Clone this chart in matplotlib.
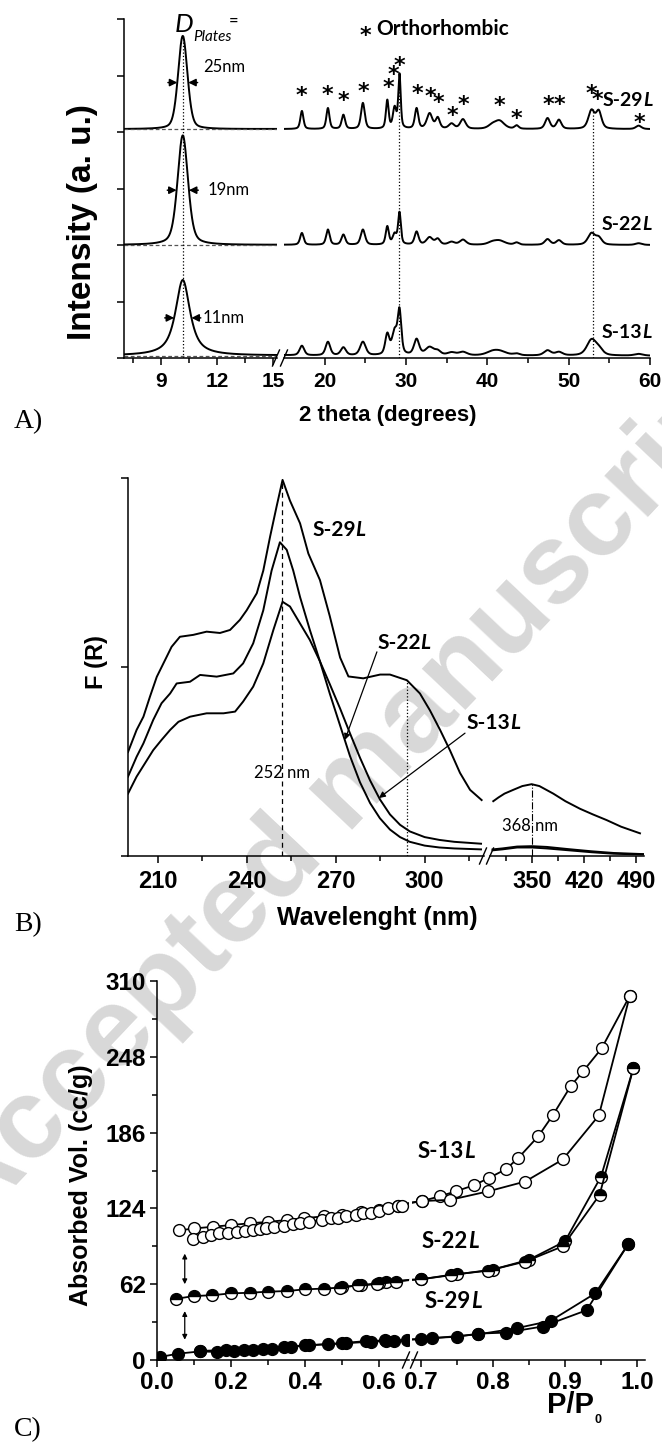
import numpy as np
import matplotlib
matplotlib.use('Agg')
import matplotlib.pyplot as plt
from matplotlib.lines import Line2D

W, H = 662, 1444
SANS = ['Liberation Sans', 'DejaVu Sans']
HUM = ['Lato', 'DejaVu Sans']
plt.rcParams['font.family'] = SANS

# ---------------- A) XRD ----------------
xrd_samples = ['S-29L', 'S-22L', 'S-13L']
xrd_offset = [4.05, 2.0, 0.04]
plate_pos = 10.15
plate_height = [1.65, 1.94, 1.34]
plate_fwhm = [0.59, 0.66, 0.93]
plate_eta = [0.3, 0.4, 0.85]
plate_size = ['25nm', '19nm', '11nm']

ortho_pos = [17.2, 20.4, 22.3, 24.7, 27.7, 28.6, 29.2, 31.3, 32.9, 33.9, 35.6,
             37.0, 40.6, 41.5, 43.6, 47.4, 48.8, 52.8, 53.7, 58.6]
ortho_h29 = [0.32, 0.37, 0.25, 0.46, 0.50, 0.36, 0.95, 0.36, 0.27, 0.19, 0.09,
             0.17, 0.06, 0.14, 0.06, 0.19, 0.16, 0.32, 0.30, 0.06]
ortho_h22 = [0.21, 0.27, 0.18, 0.27, 0.32, 0.18, 0.56, 0.23, 0.13, 0.10, 0.05,
             0.09, 0.04, 0.07, 0.04, 0.10, 0.08, 0.20, 0.12, 0.03]
ortho_h13 = [0.17, 0.24, 0.14, 0.24, 0.36, 0.40, 0.75, 0.28, 0.14, 0.07, 0.05,
             0.06, 0.05, 0.07, 0.03, 0.09, 0.06, 0.27, 0.10, 0.03]
ortho_w = [0.45, 0.45, 0.5, 0.55, 0.4, 0.5, 0.35, 0.5, 0.8, 0.6, 0.8,
           0.8, 1.2, 1.4, 0.6, 0.7, 0.7, 0.9, 0.8, 0.8]
ortho_h = [ortho_h29, ortho_h22, ortho_h13]
width_scale = [1.0, 1.15, 1.5]

star_x = [17.18, 20.37, 22.33, 24.79, 27.85, 28.47, 29.2, 31.41, 33.0, 33.99,
          35.7, 37.06, 41.47, 43.56, 47.48, 48.83, 52.76, 53.5, 58.65]
star_y = [4.75, 4.77, 4.66, 4.82, 4.89, 5.12, 5.28, 4.79, 4.73, 4.63,
          4.4, 4.59, 4.57, 4.34, 4.59, 4.59, 4.79, 4.68, 4.27]

# ---------------- B) DR-UV-vis ----------------
b29_x = [200, 202.9, 205.2, 207.4, 209.7, 212.5, 214.7, 217.5, 222, 226.5, 231,
         234.4, 237.7, 240, 243.4, 245.6, 247.9, 250.1, 252.1, 254.6, 258, 260.8,
         264.7, 268, 271.5, 274.3, 279.3, 285, 288.3, 294, 298.4, 301.8, 305.2,
         308.5, 311.9, 315.3, 319.2]
b29_y = [0.55, 0.667, 0.737, 0.843, 0.948, 1.037, 1.107, 1.16, 1.17, 1.187, 1.18,
         1.196, 1.249, 1.30, 1.39, 1.51, 1.69, 1.85, 1.99, 1.88, 1.76, 1.60,
         1.46, 1.27, 1.05, 0.95, 0.94, 0.96, 0.96, 0.93, 0.86, 0.77, 0.667,
         0.56, 0.44, 0.35, 0.296]
b22_x = [200, 202.9, 205.2, 208.5, 211.3, 214.2, 216.4, 220.9, 224.3, 229.9, 235.5,
         238.8, 242.2, 245.6, 248.4, 251.2, 253.5, 255.7, 258, 261.3, 264.7, 268,
         271.5, 274.8, 278.2, 281.6, 284.9, 288.3, 291.7, 295, 300, 305, 310, 319]
b22_y = [0.42, 0.525, 0.596, 0.72, 0.808, 0.86, 0.913, 0.922, 0.958, 0.949, 0.966,
         1.019, 1.125, 1.30, 1.51, 1.66, 1.62, 1.51, 1.37, 1.196, 1.03, 0.86,
         0.69, 0.53, 0.39, 0.28, 0.20, 0.14, 0.10, 0.075, 0.055, 0.045, 0.04, 0.035]
b13_x = [200, 202.9, 205.7, 208.5, 211.3, 214.2, 217, 220.9, 226.5, 232.2, 236.1,
         238.8, 242.2, 245.6, 249, 252.1, 254.6, 258, 261.3, 264.7, 268, 271.5,
         274.8, 278.2, 281.6, 284.9, 288.3, 291.7, 295, 300, 305, 310, 319]
b13_y = [0.33, 0.42, 0.49, 0.56, 0.614, 0.667, 0.71, 0.737, 0.755, 0.755, 0.764,
         0.817, 0.896, 1.019, 1.196, 1.345, 1.32, 1.23, 1.143, 1.03, 0.91, 0.78,
         0.65, 0.52, 0.40, 0.30, 0.22, 0.165, 0.13, 0.10, 0.085, 0.075, 0.065]
# right (broken) segment of the wavelength axis
b29r_x = [297.9, 305, 313, 324.8, 337, 349.6, 360, 378.7, 395, 414.6, 432, 450.5, 470, 495.4]
b29r_y = [0.29, 0.31, 0.33, 0.35, 0.37, 0.38, 0.37, 0.33, 0.29, 0.25, 0.22, 0.19, 0.155, 0.12]
b22r_x = [297, 310, 330, 350, 370, 400, 430, 460, 500]
b22r_y = [0.03, 0.035, 0.045, 0.045, 0.04, 0.03, 0.02, 0.012, 0.008]
b13r_x = [297, 310, 330, 350, 370, 400, 430, 460, 500]
b13r_y = [0.035, 0.04, 0.05, 0.052, 0.048, 0.036, 0.025, 0.016, 0.01]

# ---------------- C) N2 isotherms ----------------
c13_ads_p = [0.098, 0.125, 0.146, 0.167, 0.192, 0.215, 0.237, 0.26, 0.278, 0.294, 0.316,
             0.343, 0.367, 0.387, 0.411, 0.446, 0.469, 0.489, 0.512, 0.537, 0.557, 0.578,
             0.60, 0.625, 0.65, 0.663, 0.702, 0.741, 0.794, 0.845, 0.897, 0.947, 0.99]
c13_ads_v = [99.3, 100.7, 102, 103.5, 104, 105, 105.4, 106, 107, 107.6, 108.5,
             110, 111, 112, 113, 114.5, 116, 116.5, 118, 119, 120, 120.5,
             122, 124, 125.6, 126, 130, 131, 138, 146, 164, 200, 298]
c13_des_p = [0.99, 0.951, 0.925, 0.908, 0.883, 0.863, 0.835, 0.818, 0.795, 0.774, 0.749,
             0.727, 0.702, 0.65, 0.6, 0.55, 0.5, 0.45, 0.398, 0.35, 0.301, 0.25, 0.2,
             0.152, 0.1, 0.06]
c13_des_v = [298, 255, 236, 224, 200, 183, 165, 156, 149, 143, 138,
             134, 130, 126, 123, 121, 119, 117.5, 116, 114.5, 113, 111.8, 110.4,
             109, 107.6, 106]
c22_ads_p = [0.05, 0.1, 0.149, 0.2, 0.25, 0.3, 0.35, 0.4, 0.45, 0.494, 0.542, 0.595,
             0.646, 0.70, 0.742, 0.793, 0.845, 0.897, 0.948, 0.995]
c22_ads_v = [50, 52.3, 53, 54.5, 55, 55.9, 56.4, 57.8, 58.4, 59.2, 61, 62,
             64, 66, 69.7, 73, 80.5, 93, 135, 239]
c22_des_p = [0.995, 0.95, 0.9, 0.85, 0.8, 0.75, 0.70, 0.62, 0.6, 0.55, 0.5]
c22_des_v = [239, 150, 97, 82, 74, 70, 66, 64, 63, 61, 59.8]
c29_ads_p = [0.009, 0.057, 0.116, 0.162, 0.209, 0.26, 0.31, 0.363, 0.41, 0.461, 0.51,
             0.565, 0.615, 0.641, 0.675, 0.716, 0.75, 0.78, 0.818, 0.869, 0.93, 0.988]
c29_ads_v = [2.5, 5.2, 7, 6.6, 7, 8, 9, 10.7, 12, 13, 14,
             15.5, 16, 15.4, 16.3, 18, 19, 21.6, 22.4, 27.4, 40.7, 95]
c29_des_p = [0.988, 0.942, 0.88, 0.833, 0.78, 0.7, 0.618, 0.577, 0.5, 0.4, 0.343,
             0.287, 0.234, 0.186, 0.116]
c29_des_v = [95, 54.5, 32, 26, 21, 17, 15.4, 15, 13.5, 12, 10.7, 9, 8, 8, 7.5]


def add_ax(x0, x1, y0, y1):
    ax = fig.add_axes([x0 / W, 1 - y1 / H, (x1 - x0) / W, (y1 - y0) / H])
    ax.patch.set_alpha(0)
    for s in ['top', 'right']:
        ax.spines[s].set_visible(False)
    for s in ['left', 'bottom']:
        ax.spines[s].set_linewidth(1.1)
    ax.tick_params(which='both', direction='out', width=1.1)
    ax.tick_params(which='major', length=5)
    ax.tick_params(which='minor', length=3.5)
    return ax


def right_part(ax):
    ax.spines['left'].set_visible(False)
    ax.tick_params(axis='y', which='both', left=False, labelleft=False)


def ftxt(xp, yp, s, **kw):
    return fig.text(xp / W, 1 - yp / H, s, **kw)


def slash(xp, yp, dx=3.5, dy=8):
    fig.add_artist(Line2D([(xp - dx) / W, (xp + dx) / W],
                          [1 - (yp + dy) / H, 1 - (yp - dy) / H],
                          color='black', lw=1.0, transform=fig.transFigure))


def sample_label(ax, xp, yp, name, size):
    t = ax.text(xp / W, 1 - yp / H, name[:-1], transform=fig.transFigure,
                family=HUM, fontweight='bold', fontsize=size, ha='left', va='center')
    ax.annotate(name[-1], xy=(1, 0), xycoords=t, family=HUM, fontweight='bold',
                fontstyle='italic', fontsize=size, ha='left', va='bottom')


def pvoigt(x, pos, h, w, eta):
    g = np.exp(-4 * np.log(2) * ((x - pos) / w) ** 2)
    lo = 1.0 / (1 + 4 * ((x - pos) / w) ** 2)
    return h * (eta * lo + (1 - eta) * g)


fig = plt.figure(figsize=(W / 100, H / 100), dpi=100)

# watermark
ftxt(350, 790, 'Accepted manuscript', fontsize=82, fontweight='bold', color='#d8d8d8',
     rotation=46.6, rotation_mode='anchor', ha='center', va='center', zorder=-5)

# ================= panel A =================
axA1 = add_ax(124, 277, 19, 358)
axA2 = add_ax(284, 650, 19, 358)
right_part(axA2)
tt = np.linspace(7, 60, 6000)
for i, name in enumerate(xrd_samples):
    y = xrd_offset[i] + pvoigt(tt, plate_pos, plate_height[i], plate_fwhm[i], plate_eta[i])
    for p, hh, w in zip(ortho_pos, ortho_h[i], ortho_w):
        y = y + pvoigt(tt, p, hh, w * width_scale[i], 0.5)
    for ax in (axA1, axA2):
        ax.plot(tt, y, color='black', lw=1.4)
    axA1.plot([7, 15.2], [xrd_offset[i]] * 2, ls=(0, (3, 2)), color='#555555', lw=0.9)
    # FWHM markers
    yl = xrd_offset[i] + plate_height[i] / 2
    xl = plate_pos - plate_fwhm[i] / 2
    xr = plate_pos + plate_fwhm[i] / 2
    for tip, tail in ((xl, xl - 0.5), (xr, xr + 0.5)):
        axA1.annotate('', xy=(tip, yl), xytext=(tail, yl),
                      arrowprops=dict(arrowstyle='-|>', color='black', lw=1.1,
                                      mutation_scale=11, shrinkA=0, shrinkB=0))
axA1.plot([plate_pos, plate_pos], [0, xrd_offset[0] + plate_height[0]], ls=':', color='black', lw=0.9)
axA2.plot([29.2, 29.2], [0, 5.0], ls=':', color='black', lw=0.9)
axA2.plot([53.0, 53.0], [0, 4.4], ls=':', color='black', lw=0.9)
for sx, sy in zip(star_x, star_y):
    axA2.text(sx, sy - 0.22, '*', family=['DejaVu Sans'], fontweight='bold', fontsize=16,
              ha='center', va='baseline')

axA1.set_xlim(7, 15.2)
axA2.set_xlim(15, 60)
for ax in (axA1, axA2):
    ax.set_ylim(0, 6)
axA1.set_yticks(range(7))
axA1.set_yticklabels([])
axA1.set_xticks([9, 12, 15])
axA1.set_xticks([7.5, 10.5, 13.5], minor=True)
axA2.set_xticks([20, 30, 40, 50, 60])
axA2.set_xticks([25, 35, 45, 55], minor=True)
for ax in (axA1, axA2):
    for lab in ax.get_xticklabels():
        lab.set_fontsize(15)
        lab.set_fontweight('bold')
    ax.tick_params(axis='x', pad=5)

for i, s in enumerate(plate_size):
    axA1.text([11.22, 11.5, 11.2][i], xrd_offset[i] + plate_height[i] / 2 + [0.28, 0, 0][i], s,
              family=HUM, fontsize=12, ha='left', va='center')
# D_Plates =
axA1.text(9.73, 5.9, 'D', family=HUM, fontstyle='italic', fontsize=19, ha='left', va='center')
axA1.text(10.69, 5.69, 'Plates', family=HUM, fontstyle='italic', fontsize=11, ha='left', va='center')
axA1.text(12.61, 5.96, '=', family=HUM, fontsize=12, ha='left', va='center')
axA2.text(24.3, 5.82 - 0.22, '*', family=['DejaVu Sans'], fontweight='bold', fontsize=16,
          ha='left', va='baseline')
axA2.text(26.3, 5.82, 'Orthorhombic', family=HUM, fontweight='bold', fontsize=15,
          ha='left', va='center')
sample_label(axA2, 603, 101, 'S-29L', 14)
sample_label(axA2, 602, 224, 'S-22L', 14)
sample_label(axA2, 602, 332, 'S-13L', 14)
slash(276, 358)
slash(284, 358)
ftxt(388, 415, '2 theta (degrees)', fontsize=16, fontweight='bold', ha='center', va='center')
ftxt(83, 222, 'Intensity (a. u.)', fontsize=24, fontweight='bold', ha='center', va='center',
     rotation=90)
ftxt(28, 422, 'A)', family=['Liberation Serif'], fontsize=20, ha='center', va='center')

# ================= panel B =================
axB1 = add_ax(128, 484, 478, 856)
axB2 = add_ax(490, 644, 478, 856)
right_part(axB2)
for xs, ys in ((b29_x, b29_y), (b22_x, b22_y), (b13_x, b13_y)):
    axB1.plot(xs, ys, color='black', lw=1.4)
for xs, ys in ((b29r_x, b29r_y), (b22r_x, b22r_y), (b13r_x, b13r_y)):
    axB2.plot(xs, ys, color='black', lw=1.4)
axB1.plot([252, 252], [0, 1.99], ls=(0, (4, 3)), color='black', lw=0.9)
axB1.plot([294, 294], [0, 0.93], ls=':', color='black', lw=0.9)
axB2.plot([350, 350], [0, 0.38], ls='-.', color='black', lw=0.8)
axB1.set_xlim(200, 320)
axB2.set_xlim(293.5, 500.8)
for ax in (axB1, axB2):
    ax.set_ylim(0, 2)
axB1.set_yticks([0, 1, 2])
axB1.set_yticklabels([])
axB1.set_xticks([210, 240, 270, 300])
axB1.set_xticks([225, 255, 285, 315], minor=True)
axB2.set_xticks([350, 420, 490])
axB2.set_xticks([315, 385, 455], minor=True)
for ax in (axB1, axB2):
    for lab in ax.get_xticklabels():
        lab.set_fontsize(17)
        lab.set_fontweight('bold')
    ax.tick_params(axis='x', pad=5)
axB1.text(251.9, 0.44, '252 nm', family=HUM, fontsize=12, ha='center', va='center')
axB2.text(347.3, 0.16, '368 nm', family=HUM, fontsize=12, ha='center', va='center')
sample_label(axB1, 312, 530, 'S-29L', 15)
sample_label(axB1, 377, 643, 'S-22L', 15)
sample_label(axB1, 466, 723, 'S-13L', 15)
for tip, tail in (((273.1, 0.614), (283.9, 1.08)), ((284.6, 0.307), (313.6, 0.65))):
    axB1.annotate('', xy=tip, xytext=tail, annotation_clip=False,
                  arrowprops=dict(arrowstyle='-|>', color='black', lw=0.9,
                                  mutation_scale=9, shrinkA=0, shrinkB=0))
slash(483, 856)
slash(490, 856)
ftxt(377, 918, 'Wavelenght (nm)', fontsize=18, fontweight='bold', ha='center', va='center')
ftxt(97, 662, 'F (R)', fontsize=17, fontweight='bold', ha='center', va='center', rotation=90)
ftxt(28, 925, 'B)', family=['Liberation Serif'], fontsize=20, ha='center', va='center')

# ================= panel C =================
axC1 = add_ax(157, 409, 981, 1360)
axC2 = add_ax(412, 645, 981, 1360)
right_part(axC2)
mk = dict(marker='o', ms=8.5, mew=1.0, mec='black', color='black', lw=1.3)
for ax in (axC1, axC2):
    ax.plot(c29_des_p, c29_des_v, mfc='black', **mk)
    ax.plot(c29_ads_p, c29_ads_v, mfc='black', **mk)
    ax.plot(c22_des_p, c22_des_v, fillstyle='top', mfc='black', markerfacecoloralt='white', **mk)
    ax.plot(c22_ads_p, c22_ads_v, fillstyle='top', mfc='black', markerfacecoloralt='white', **mk)
    ax.plot(c13_des_p, c13_des_v, mfc='white', **mk)
    ax.plot(c13_ads_p, c13_ads_v, mfc='white', **mk)
    ax.set_ylim(0, 310)
axC1.set_xlim(0, 0.681)
axC2.set_xlim(0.688, 1.011)
axC1.set_yticks(np.arange(0, 311, 62))
axC1.set_yticks(np.arange(31, 311, 62), minor=True)
axC1.set_xticks([0.0, 0.2, 0.4, 0.6])
axC1.set_xticks([0.1, 0.3, 0.5], minor=True)
axC1.set_xticklabels(['0.0', '0.2', '0.4', '0.6'])
axC2.set_xticks([0.7, 0.8, 0.9, 1.0])
axC2.set_xticklabels(['0.7', '0.8', '0.9', '1.0'])
axC2.set_xticks([0.75, 0.85, 0.95], minor=True)
for ax in (axC1, axC2):
    for lab in ax.get_xticklabels() + ax.get_yticklabels():
        lab.set_fontsize(17.5)
        lab.set_fontweight('bold')
    ax.tick_params(axis='both', pad=3)
for v0, v1 in ((87, 62), (40, 16.6)):
    axC1.annotate('', xy=(0.075, v1), xytext=(0.075, v0),
                  arrowprops=dict(arrowstyle='<|-|>', color='black', lw=0.9,
                                  mutation_scale=7, shrinkA=0, shrinkB=0))
sample_label(axC2, 418, 1151, 'S-13L', 16)
sample_label(axC2, 422, 1241, 'S-22L', 16)
sample_label(axC2, 425, 1301, 'S-29L', 16)
slash(406, 1360)
slash(414, 1360)
ftxt(570, 1405, 'P/P', fontsize=21, fontweight='bold', ha='center', va='center')
ftxt(598, 1420, '0', fontsize=9, fontweight='bold', ha='center', va='center')
ftxt(81, 1185, 'Absorbed Vol. (cc/g)', fontsize=18, fontweight='bold', ha='center',
     va='center', rotation=90)
ftxt(28, 1430, 'C)', family=['Liberation Serif'], fontsize=20, ha='center', va='center')

fig.savefig('out.png', dpi=100)
